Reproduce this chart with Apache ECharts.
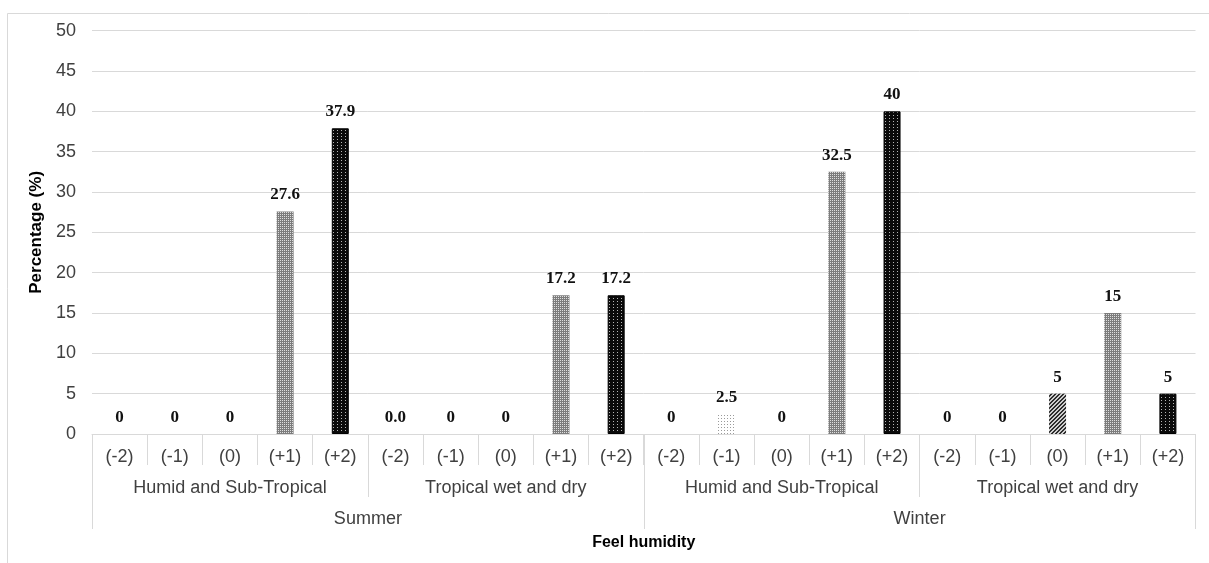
<!DOCTYPE html>
<html>
<head>
<meta charset="utf-8">
<script src="https://cdn.jsdelivr.net/npm/echarts@6/dist/echarts.min.js"></script>
<style>
  html, body { margin: 0; padding: 0; background: #ffffff; }
  #chart { width: 1209px; height: 563px; }
</style>
</head>
<body>
<div id="chart"></div>
<script>
// ---- Data ----
const ratings = ['(-2)', '(-1)', '(0)', '(+1)', '(+2)'];
const climates = ['Humid and Sub-Tropical', 'Tropical wet and dry'];
const seasons = ['Summer', 'Winter'];

const summerHumid = [0, 0, 0, 27.6, 37.9];
const summerTropical = [0, 0, 0, 17.2, 17.2];
const winterHumid = [0, 2.5, 0, 32.5, 40];
const winterTropical = [0, 0, 5, 15, 5];

const summerHumidLabels = ['0', '0', '0', '27.6', '37.9'];
const summerTropicalLabels = ['0.0', '0', '0', '17.2', '17.2'];
const winterHumidLabels = ['0', '2.5', '0', '32.5', '40'];
const winterTropicalLabels = ['0', '0', '5', '15', '5'];

const yTicks = [0, 5, 10, 15, 20, 25, 30, 35, 40, 45, 50];

// ---- Build ----
const groups = [summerHumid, summerTropical, winterHumid, winterTropical];
const groupLabels = [summerHumidLabels, summerTropicalLabels, winterHumidLabels, winterTropicalLabels];
const groupNames = [climates[0], climates[1], climates[0], climates[1]];

const categories = [];
const values = [];
const labelTexts = [];
const ratingIdx = [];
groups.forEach((g, gi) => {
  g.forEach((v, i) => {
    categories.push(ratings[i]);
    values.push(v);
    labelTexts.push(groupLabels[gi][i]);
    ratingIdx.push(i);
  });
});

function makePattern(w, h, draw) {
  const c = document.createElement('canvas');
  c.width = w; c.height = h;
  const ctx = c.getContext('2d');
  draw(ctx);
  return { image: c, repeat: 'repeat' };
}
function px(ctx, x, y, col) { ctx.fillStyle = col; ctx.fillRect(x, y, 1, 1); }

const patterns = {
  0: makePattern(2, 2, ctx => { ctx.fillStyle = '#777'; ctx.fillRect(0, 0, 2, 2); }),
  1: makePattern(3, 3, ctx => { ctx.fillStyle = '#ffffff'; ctx.fillRect(0, 0, 3, 3); px(ctx, 1, 1, '#9a9a9a'); }),
  2: makePattern(4, 4, ctx => {
    ctx.fillStyle = '#cfcfcf'; ctx.fillRect(0, 0, 4, 4);
    for (let x = 0; x < 4; x++) for (let y = 0; y < 4; y++) {
      const m = (x + y) % 4;
      if (m === 0 || m === 1) px(ctx, x, y, '#2e2e2e');
    }
  }),
  3: makePattern(2, 2, ctx => {
    ctx.fillStyle = '#7c7c7c'; ctx.fillRect(0, 0, 2, 2);
    px(ctx, 0, 0, '#dedede');
  }),
  4: makePattern(4, 3, ctx => {
    ctx.fillStyle = '#0a0a0a'; ctx.fillRect(0, 0, 4, 3);
    px(ctx, 1, 1, '#b5b5b5');
  })
};

const barData = values.map((v, i) => {
  const r = ratingIdx[i];
  const item = {
    value: v,
    itemStyle: { color: patterns[r] }
  };
  if (r === 4) { item.itemStyle.borderColor = '#000'; item.itemStyle.borderWidth = 1; }
  return item;
});

const gridColor = '#d9d9d9';
const textColor = '#404040';
const sans = 'Liberation Sans, Arial, sans-serif';

const chart = echarts.init(document.getElementById('chart'), null, { renderer: 'canvas' });
chart.setOption({
  backgroundColor: '#ffffff',
  animation: false,
  graphic: [{
    type: 'rect',
    shape: { x: 7.5, y: 13.5, width: 1300, height: 700 },
    style: { fill: 'none', stroke: gridColor, lineWidth: 1 },
    silent: true,
    z: -10
  }],
  grid: { left: 92, right: 13.5, top: 30.7, bottom: 129, containLabel: false },
  xAxis: [
    {
      type: 'category',
      position: 'bottom',
      data: categories,
      axisLine: { show: true, lineStyle: { color: gridColor, width: 1 } },
      axisTick: { show: true, length: 31, interval: 0, alignWithLabel: false, lineStyle: { color: gridColor } },
      axisLabel: { interval: 0, margin: 14, color: textColor, fontFamily: sans, fontSize: 18 },
      splitLine: { show: false }
    },
    {
      type: 'category',
      position: 'bottom',
      data: groupNames,
      axisLine: { show: false },
      axisTick: { show: true, length: 63, interval: 0, lineStyle: { color: gridColor } },
      axisLabel: { interval: 0, margin: 45, color: textColor, fontFamily: sans, fontSize: 18 },
      splitLine: { show: false }
    },
    {
      type: 'category',
      position: 'bottom',
      data: seasons,
      axisLine: { show: false },
      axisTick: { show: true, length: 95, interval: 0, lineStyle: { color: gridColor } },
      axisLabel: { interval: 0, margin: 76, color: textColor, fontFamily: sans, fontSize: 18 },
      name: 'Feel humidity',
      nameLocation: 'middle',
      nameGap: 101,
      nameTextStyle: { color: '#000', fontFamily: sans, fontSize: 16, fontWeight: 'bold' },
      splitLine: { show: false }
    }
  ],
  yAxis: {
    type: 'value',
    min: 0,
    max: 50,
    interval: 5,
    axisLine: { show: false },
    axisTick: { show: false },
    axisLabel: {
      margin: 16, color: textColor, fontFamily: sans, fontSize: 18,
      formatter: v => (yTicks.indexOf(v) >= 0 ? String(v) : '')
    },
    splitLine: { lineStyle: { color: gridColor, width: 1 } },
    name: 'Percentage (%)',
    nameLocation: 'middle',
    nameRotate: 90,
    nameGap: 43,
    nameTextStyle: { color: '#000', fontFamily: sans, fontSize: 17, fontWeight: 'bold' }
  },
  series: [{
    type: 'bar',
    xAxisIndex: 0,
    barWidth: 17,
    data: barData,
    label: {
      show: true,
      position: 'top',
      distance: 8,
      color: '#111',
      fontFamily: 'Liberation Serif, Times New Roman, serif',
      fontWeight: 'bold',
      fontSize: 17,
      lineHeight: 17,
      formatter: p => labelTexts[p.dataIndex]
    }
  }]
});
</script>
</body>
</html>
